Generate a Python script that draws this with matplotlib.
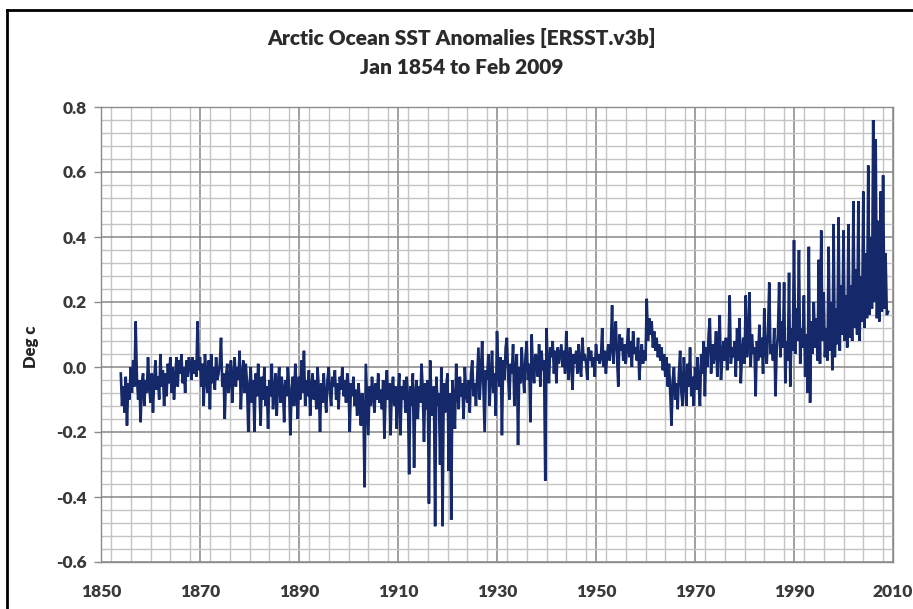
import numpy as np
import matplotlib
matplotlib.use("Agg")
import matplotlib.pyplot as plt
from matplotlib.ticker import MultipleLocator, FormatStrFormatter
from matplotlib.lines import Line2D

# ---- data: quarterly-resolution reading of the monthly anomaly series (deg C) ----
start_year = 1854
samples_per_year = 4

anom_1854_1879 = [
    -0.02, -0.12, -0.06, -0.14,   # 1854
    -0.03, -0.18, -0.05, -0.10,   # 1855
    0.00, -0.08, 0.02, -0.06,     # 1856
    0.14, -0.03, -0.10, -0.04,    # 1857
    -0.17, -0.05, -0.02, -0.12,   # 1858
    -0.04, -0.08, 0.03, -0.06,    # 1859
    -0.11, -0.02, -0.14, -0.04,   # 1860
    0.02, -0.07, -0.03, -0.10,    # 1861
    0.04, -0.06, -0.01, -0.12,    # 1862
    -0.02, -0.09, 0.01, -0.05,    # 1863
    0.03, -0.08, 0.00, -0.10,     # 1864
    -0.03, 0.03, -0.06, 0.02,     # 1865
    -0.02, 0.04, -0.05, 0.00,     # 1866
    -0.08, 0.02, -0.03, 0.03,     # 1867
    0.01, -0.04, 0.03, -0.02,     # 1868
    0.02, -0.03, 0.14, -0.01,     # 1869
    0.03, -0.06, 0.01, -0.12,     # 1870
    0.04, -0.03, -0.08, 0.02,     # 1871
    -0.13, 0.04, -0.05, 0.00,     # 1872
    -0.07, 0.03, -0.04, -0.02,    # 1873
    0.01, 0.09, -0.06, -0.02,     # 1874
    -0.16, -0.03, 0.01, -0.08,    # 1875
    -0.04, 0.02, -0.11, -0.03,    # 1876
    0.03, -0.06, 0.00, -0.04,     # 1877
    0.05, -0.13, -0.03, 0.02,     # 1878
    -0.08, 0.01, -0.05, -0.20,    # 1879
]

anom_1880_1904 = [
    -0.06, 0.00, -0.11, -0.04,    # 1880
    -0.20, -0.02, -0.09, 0.01,    # 1881
    -0.07, -0.18, -0.03, -0.10,   # 1882
    0.00, -0.12, -0.06, -0.19,    # 1883
    -0.04, -0.09, 0.01, -0.13,    # 1884
    -0.08, -0.02, -0.15, -0.05,   # 1885
    0.00, -0.11, -0.03, -0.07,    # 1886
    -0.17, -0.04, -0.09, 0.00,    # 1887
    -0.06, -0.21, -0.08, -0.03,   # 1888
    -0.12, 0.01, -0.07, -0.16,    # 1889
    -0.03, -0.10, 0.02, -0.08,    # 1890
    0.05, -0.12, -0.04, -0.09,    # 1891
    -0.01, -0.15, -0.06, -0.02,   # 1892
    -0.10, -0.04, -0.13, 0.00,    # 1893
    -0.07, -0.20, -0.05, -0.11,   # 1894
    -0.02, -0.09, -0.14, -0.04,   # 1895
    0.00, -0.08, -0.12, -0.03,    # 1896
    -0.06, -0.01, -0.10, -0.05,   # 1897
    -0.13, -0.03, -0.07, 0.00,    # 1898
    -0.09, -0.04, -0.11, -0.02,   # 1899
    -0.06, -0.20, -0.05, -0.09,   # 1900
    -0.03, -0.12, -0.07, -0.15,   # 1901
    -0.05, -0.10, -0.18, -0.08,   # 1902
    -0.12, -0.37, 0.01, -0.10,    # 1903
    -0.21, -0.06, -0.12, -0.03,   # 1904
]

anom_1905_1939 = [
    -0.09, -0.14, -0.05, -0.10,   # 1905
    -0.02, -0.11, -0.07, -0.13,   # 1906
    -0.04, -0.22, -0.08, -0.01,   # 1907
    -0.10, -0.05, -0.21, -0.07,   # 1908
    -0.03, -0.12, -0.06, -0.19,   # 1909
    -0.08, -0.02, -0.21, -0.06,   # 1910
    -0.10, -0.04, -0.14, -0.03,   # 1911
    -0.09, -0.33, -0.06, -0.12,   # 1912
    -0.02, -0.31, -0.08, -0.04,   # 1913
    -0.16, -0.06, -0.11, 0.01,    # 1914
    -0.07, -0.23, -0.05, -0.13,   # 1915
    -0.04, -0.42, 0.02, -0.10,    # 1916
    -0.15, -0.06, -0.49, -0.03,   # 1917
    -0.12, -0.08, -0.30, 0.00,    # 1918
    -0.49, -0.05, -0.14, -0.06,   # 1919
    -0.02, -0.32, -0.08, -0.47,   # 1920
    -0.04, -0.11, -0.19, 0.01,    # 1921
    -0.07, -0.13, -0.03, -0.09,   # 1922
    -0.05, -0.16, 0.00, -0.08,    # 1923
    -0.11, -0.04, -0.14, -0.02,   # 1924
    0.02, -0.09, -0.05, -0.12,    # 1925
    -0.03, 0.06, -0.10, -0.02,    # 1926
    0.08, -0.06, -0.20, -0.01,    # 1927
    -0.04, 0.04, -0.12, -0.03,    # 1928
    0.05, -0.08, -0.02, -0.15,    # 1929
    0.11, -0.01, -0.06, 0.03,     # 1930
    -0.21, 0.02, -0.04, 0.06,     # 1931
    0.09, -0.03, -0.10, 0.01,     # 1932
    -0.02, 0.07, -0.12, -0.01,    # 1933
    0.04, -0.24, 0.00, -0.05,     # 1934
    0.06, -0.02, -0.08, 0.03,     # 1935
    0.08, -0.04, 0.01, -0.17,     # 1936
    0.10, -0.01, -0.05, 0.04,     # 1937
    0.03, -0.03, 0.07, -0.06,     # 1938
    0.05, -0.01, 0.02, -0.35,     # 1939
]

anom_1940_1969 = [
    0.12, 0.00, -0.05, 0.06,      # 1940
    0.03, 0.08, -0.02, 0.05,      # 1941
    -0.05, 0.06, 0.01, 0.04,      # 1942
    0.07, 0.00, 0.05, -0.02,      # 1943
    0.11, 0.02, -0.04, 0.06,      # 1944
    0.03, -0.07, 0.04, 0.01,      # 1945
    0.05, -0.02, 0.07, 0.00,      # 1946
    -0.03, 0.09, 0.02, 0.04,      # 1947
    0.01, -0.04, 0.06, 0.02,      # 1948
    0.05, 0.00, 0.03, -0.03,      # 1949
    0.07, 0.02, 0.04, 0.01,       # 1950
    0.03, 0.12, 0.00, 0.05,       # 1951
    -0.02, 0.04, 0.07, 0.02,      # 1952
    0.06, 0.19, 0.01, 0.08,       # 1953
    0.14, 0.03, -0.06, 0.10,      # 1954
    0.05, 0.09, 0.02, 0.07,       # 1955
    0.01, 0.06, 0.12, 0.03,       # 1956
    0.08, 0.00, 0.11, 0.04,       # 1957
    0.06, 0.02, 0.09, -0.04,      # 1958
    0.03, 0.07, 0.01, 0.05,       # 1959
    0.02, 0.21, 0.08, 0.15,       # 1960
    0.10, 0.14, 0.06, 0.11,       # 1961
    0.05, 0.09, 0.03, 0.07,       # 1962
    0.02, 0.06, -0.01, 0.04,      # 1963
    -0.03, 0.03, -0.06, 0.01,     # 1964
    -0.08, -0.18, -0.04, 0.00,    # 1965
    -0.10, -0.05, -0.13, -0.02,   # 1966
    0.05, -0.08, -0.12, 0.03,     # 1967
    -0.04, -0.12, 0.01, -0.06,    # 1968
    0.06, -0.09, -0.03, -0.12,    # 1969
]

anom_1970_2009 = [
    0.00, -0.07, 0.03, -0.05,     # 1970
    -0.12, 0.04, -0.02, 0.08,     # 1971
    -0.09, 0.06, 0.00, 0.10,      # 1972
    0.15, -0.02, 0.07, 0.01,      # 1973
    0.04, 0.11, -0.03, 0.06,      # 1974
    0.16, -0.04, 0.03, 0.08,      # 1975
    0.02, 0.09, -0.01, 0.05,      # 1976
    0.22, 0.01, 0.06, 0.03,       # 1977
    0.08, -0.03, 0.12, 0.02,      # 1978
    0.15, -0.05, 0.04, 0.09,      # 1979
    0.01, 0.22, 0.03, 0.07,       # 1980
    0.23, 0.00, 0.10, 0.04,       # 1981
    0.06, -0.09, 0.08, 0.02,      # 1982
    0.13, 0.03, 0.09, -0.02,      # 1983
    0.18, 0.05, 0.01, 0.11,       # 1984
    0.26, 0.04, 0.07, 0.02,       # 1985
    0.12, -0.09, 0.05, 0.10,      # 1986
    0.26, 0.03, 0.14, 0.06,       # 1987
    0.26, -0.05, 0.08, 0.02,      # 1988
    0.29, -0.06, 0.12, 0.05,      # 1989
    0.39, 0.04, 0.18, 0.08,       # 1990
    0.36, 0.01, 0.12, 0.06,       # 1991
    0.22, -0.03, 0.10, -0.08,     # 1992
    0.37, -0.11, 0.14, 0.04,      # 1993
    0.20, 0.06, 0.15, 0.02,       # 1994
    0.33, 0.01, 0.42, 0.08,       # 1995
    0.23, 0.03, 0.12, 0.02,       # 1996
    0.37, 0.05, 0.20, -0.01,      # 1997
    0.44, 0.03, 0.18, 0.07,       # 1998
    0.46, 0.05, 0.25, 0.10,       # 1999
    0.42, 0.08, 0.22, 0.06,       # 2000
    0.44, 0.09, 0.25, 0.08,       # 2001
    0.51, 0.12, 0.30, 0.10,       # 2002
    0.51, 0.08, 0.28, 0.14,       # 2003
    0.54, 0.12, 0.35, 0.15,       # 2004
    0.62, 0.16, 0.40, 0.18,       # 2005
    0.76, 0.20, 0.70, 0.15,       # 2006
    0.45, 0.14, 0.54, 0.17,       # 2007
    0.59, 0.18, 0.35, 0.16,       # 2008
    0.17,                         # 2009 (Jan-Feb)
]

title_lines = ["Arctic Ocean SST Anomalies [ERSST.v3b]", "Jan 1854 to Feb 2009"]
y_label = "Deg c"
x_ticks = [1850, 1870, 1890, 1910, 1930, 1950, 1970, 1990, 2010]
y_ticks = [-0.6, -0.4, -0.2, 0.0, 0.2, 0.4, 0.6, 0.8]

# ---- build series ----
anomaly = np.array(anom_1854_1879 + anom_1880_1904 + anom_1905_1939
                   + anom_1940_1969 + anom_1970_2009)
years = start_year + np.arange(len(anomaly)) / samples_per_year

# ---- figure ----
plt.rcParams['font.family'] = ['Lato', 'DejaVu Sans']
W, H = 913, 609
fig = plt.figure(figsize=(W / 100, H / 100), dpi=100)
fig.patch.set_facecolor('white')

ax = fig.add_axes([101 / W, 1 - 562 / H, (893 - 101) / W, (562 - 107) / H])
ax.plot(years, anomaly, color='#15296a', lw=1.9, solid_joinstyle='miter')

ax.set_xlim(1850, 2010)
ax.set_ylim(-0.6, 0.8)
ax.set_xticks(x_ticks)
ax.set_yticks(y_ticks)
ax.xaxis.set_minor_locator(MultipleLocator(4))
ax.yaxis.set_minor_locator(MultipleLocator(0.04))
ax.yaxis.set_major_formatter(FormatStrFormatter('%.1f'))

ax.grid(which='major', color='#868686', lw=1.1)
ax.grid(which='minor', color='#c4c4c4', lw=1.0)
ax.set_axisbelow(True)
for s in ax.spines.values():
    s.set_color('#8c8c8c')
    s.set_linewidth(1.0)

ax.tick_params(axis='both', which='major', length=5, width=1.0, color='#8c8c8c',
               labelsize=12.5, labelcolor='#3a3a3a', pad=5)
ax.tick_params(axis='x', which='major', length=0, pad=16)
ax.tick_params(which='minor', length=0)
for lab in ax.get_xticklabels() + ax.get_yticklabels():
    lab.set_fontweight('heavy')

fig.text(31 / W, 1 - 347 / H, y_label, rotation=90, ha='center', va='center',
         fontsize=12, fontweight='heavy', color='#262626')

fig.text(462 / W, 1 - 38 / H, title_lines[0], ha='center', va='center',
         fontsize=15, fontweight='heavy', color='#2b2b2b')
fig.text(462 / W, 1 - 68 / H, title_lines[1], ha='center', va='center',
         fontsize=15, fontweight='heavy', color='#2b2b2b')

# outer chart frame (black, cut by image edges on right/bottom)
fig.add_artist(Line2D([7 / W, 7 / W], [0, 1 - 10 / H], transform=fig.transFigure,
                      color='black', lw=2))
fig.add_artist(Line2D([7 / W, 1], [1 - 10 / H, 1 - 10 / H], transform=fig.transFigure,
                      color='black', lw=2))

fig.savefig('out.png', dpi=100)
